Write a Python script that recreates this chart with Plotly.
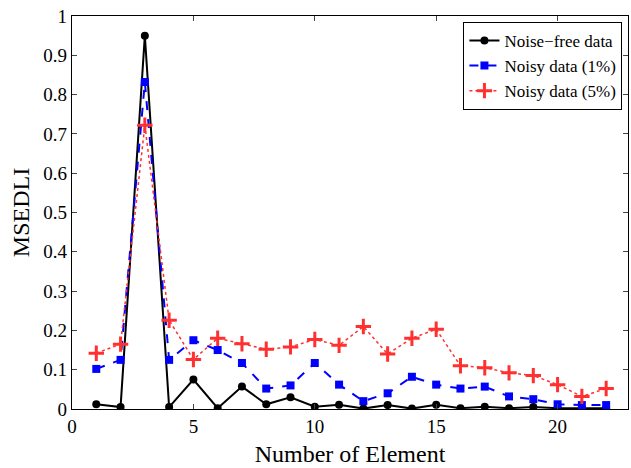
import plotly.graph_objects as go

elements = list(range(1, 23))
noise_free = [0.012, 0.005, 0.95, 0.005, 0.075, 0.002, 0.057, 0.012, 0.03, 0.006, 0.011,
              0.001, 0.01, 0.001, 0.011, 0.002, 0.006, 0.002, 0.005, 0.002, 0.002, 0.002]
noisy_1 = [0.102, 0.125, 0.832, 0.125, 0.175, 0.15, 0.117, 0.052, 0.06, 0.117, 0.062,
           0.02, 0.04, 0.082, 0.062, 0.052, 0.057, 0.032, 0.025, 0.012, 0.01, 0.01]
noisy_5 = [0.142, 0.165, 0.722, 0.226, 0.126, 0.18, 0.166, 0.152, 0.158, 0.177, 0.162,
           0.21, 0.14, 0.18, 0.203, 0.11, 0.105, 0.092, 0.085, 0.062, 0.032, 0.052]
x_ticks = [0, 5, 10, 15, 20]
y_ticks = [0, 0.1, 0.2, 0.3, 0.4, 0.5, 0.6, 0.7, 0.8, 0.9, 1]
y_tick_text = ["0", "0.1", "0.2", "0.3", "0.4", "0.5", "0.6", "0.7", "0.8", "0.9", "1"]

fig = go.Figure()
fig.add_trace(go.Scatter(x=elements, y=noise_free, mode="lines+markers", name="Noise\u2212free data",
                         line=dict(color="black", width=2),
                         marker=dict(symbol="circle", size=8, color="black")))
fig.add_trace(go.Scatter(x=elements, y=noisy_1, mode="lines+markers", name="Noisy data (1%)",
                         line=dict(color="blue", width=2, dash="dash"),
                         marker=dict(symbol="square", size=8, color="blue")))
fig.add_trace(go.Scatter(x=elements, y=noisy_5, mode="lines+markers", name="Noisy data (5%)",
                         line=dict(color="#ff3030", width=1.5, dash="dot"),
                         marker=dict(symbol="cross-thin-open", size=11,
                                     line=dict(color="red", width=3))))

axis_font = dict(family="Liberation Serif", size=19, color="black")
fig.update_layout(
    width=631, height=468,
    margin=dict(l=72, r=3, t=16, b=59),
    plot_bgcolor="white", paper_bgcolor="white",
    font=dict(family="Liberation Serif", color="black"),
    xaxis=dict(range=[0, 22.9], tickvals=x_ticks, ticks="inside", ticklen=5,
               mirror="allticks", showline=True, linecolor="black", linewidth=1.2,
               showgrid=False, zeroline=False, tickfont=axis_font,
               title=dict(text="Number of Element", font=dict(family="Liberation Serif", size=24),
                          standoff=9)),
    yaxis=dict(range=[0, 1], tickvals=y_ticks, ticktext=y_tick_text, ticks="inside", ticklen=5,
               mirror="allticks", showline=True, linecolor="black", linewidth=1.2,
               showgrid=False, zeroline=False, tickfont=axis_font,
               title=dict(text="MSEDLI", font=dict(family="Liberation Serif", size=24),
                          standoff=6)),
    legend=dict(x=0.99, y=0.985, xanchor="right", yanchor="top",
                bgcolor="white", bordercolor="black", borderwidth=1,
                font=dict(family="Liberation Serif", size=17),
                tracegroupgap=0, itemwidth=30),
    showlegend=True,
)

fig.write_html("out.html")
